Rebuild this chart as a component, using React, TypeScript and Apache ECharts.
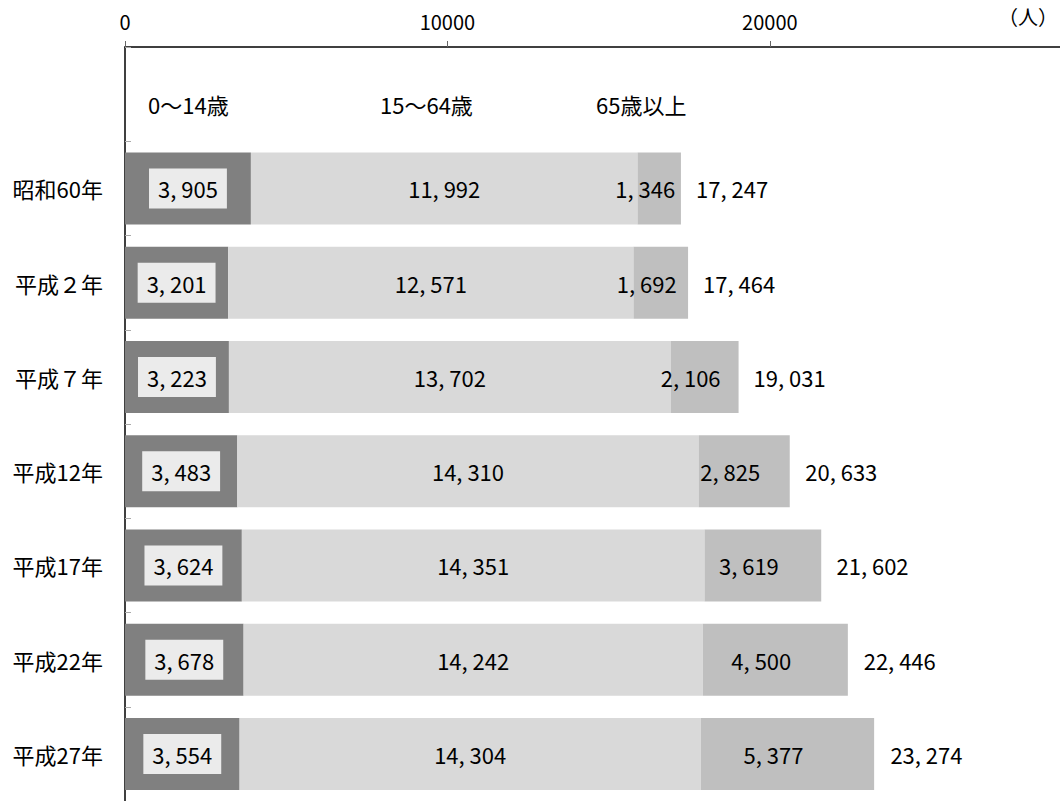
import React, { useEffect, useRef } from "react";
import * as echarts from "echarts";

const categories = ["", "昭和60年", "平成２年", "平成７年", "平成12年", "平成17年", "平成22年", "平成27年"];
const seriesNames = ["0～14歳", "15～64歳", "65歳以上"];
const young = ["-", 3905, 3201, 3223, 3483, 3624, 3678, 3554];
const working = ["-", 11992, 12571, 13702, 14310, 14351, 14242, 14304];
const elderly = ["-", 1346, 1692, 2106, 2825, 3619, 4500, 5377];
const totals = ["-", 17247, 17464, 19031, 20633, 21602, 22446, 23274];
const axisUnit = "（人）";

const FONT = "'Noto Sans CJK JP', 'Noto Sans', sans-serif";
const fmt = (v: number) => v.toLocaleString("en-US").replace(/,/g, ", ");

export default function App() {
  const ref = useRef<HTMLDivElement>(null);
  useEffect(() => {
    if (!ref.current) return;
    const chart = echarts.init(ref.current, undefined, { renderer: "svg" });
    const labelBase = { color: "#000", fontSize: 22, fontFamily: FONT };
    chart.setOption({
      animation: false,
      backgroundColor: "#fff",
      textStyle: { fontFamily: FONT },
      grid: { left: 125, right: 0, top: 47, bottom: 0, containLabel: false, outerBoundsMode: "none" },
      legend: [
        { data: [seriesNames[0]], left: 143, top: 93 },
        { data: [seriesNames[1]], left: 375, top: 93 },
        { data: [seriesNames[2]], left: 591, top: 93 },
      ].map((l) => ({
        ...l,
        padding: 0,
        itemWidth: 0,
        itemHeight: 0,
        selectedMode: false,
        textStyle: { fontSize: 22, color: "#000", fontFamily: FONT },
      })),
      graphic: [
        {
          type: "text",
          left: 998,
          top: 6,
          style: { text: axisUnit, fontSize: 20, fill: "#000", fontFamily: FONT },
        },
      ],
      xAxis: {
        type: "value",
        position: "top",
        min: 0,
        max: 29000,
        interval: 10000,
        axisLine: { show: true, lineStyle: { color: "#000", width: 1.5 } },
        axisTick: { show: true, length: 6, lineStyle: { color: "#666" } },
        splitLine: { show: false },
        axisLabel: {
          fontSize: 20,
          color: "#000",
          margin: 16,
          fontFamily: FONT,
          showMaxLabel: false,
          formatter: (v: number) => String(v),
        },
      },
      yAxis: {
        type: "category",
        inverse: true,
        data: categories,
        axisLine: { show: true, lineStyle: { color: "#000", width: 1.5 } },
        axisTick: { show: true, inside: true, length: 6, lineStyle: { color: "#aaa" } },
        axisLabel: { fontSize: 22, color: "#000", margin: 22, fontFamily: FONT },
        splitLine: { show: false },
      },
      series: [
        {
          name: seriesNames[0],
          type: "bar",
          stack: "pop",
          barWidth: 72,
          data: young,
          itemStyle: { color: "#808080" },
          label: {
            show: true,
            position: "inside",
            ...labelBase,
            backgroundColor: "#ebebeb",
            padding: [9, 9],
            formatter: (p: any) => fmt(p.value),
          },
        },
        {
          name: seriesNames[1],
          type: "bar",
          stack: "pop",
          barWidth: 72,
          data: working,
          itemStyle: { color: "#d9d9d9" },
          label: { show: true, position: "inside", ...labelBase, formatter: (p: any) => fmt(p.value) },
        },
        {
          name: seriesNames[2],
          type: "bar",
          stack: "pop",
          barWidth: 72,
          data: elderly,
          itemStyle: { color: "#bfbfbf" },
          label: {
            show: true,
            position: "inside",
            offset: [-14, 0],
            ...labelBase,
            formatter: (p: any) => fmt(p.value),
          },
        },
        {
          name: "total",
          type: "bar",
          barWidth: 72,
          barGap: "-100%",
          silent: true,
          z: 1,
          data: totals,
          itemStyle: { color: "rgba(0,0,0,0)" },
          label: {
            show: true,
            position: "right",
            distance: 15,
            ...labelBase,
            formatter: (p: any) => fmt(p.value),
          },
        },
      ],
    });
    return () => chart.dispose();
  }, []);
  return (
    <div
      ref={ref}
      style={{ position: "fixed", left: 0, top: 0, width: 1060, height: 801, background: "#fff" }}
    />
  );
}
